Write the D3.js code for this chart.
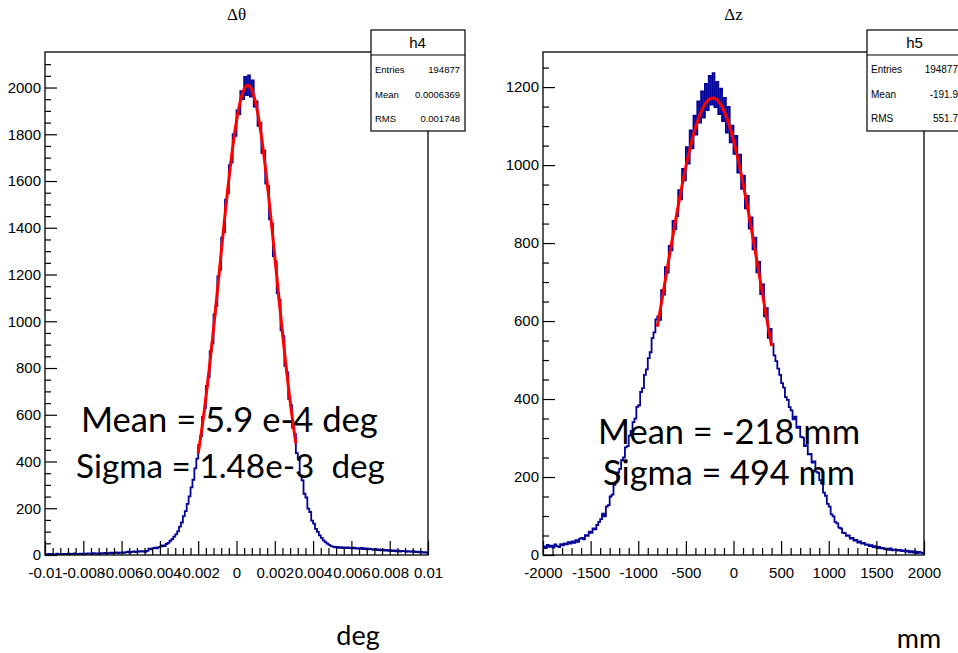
<!DOCTYPE html>
<html>
<head>
<meta charset="utf-8">
<script src="https://cdn.jsdelivr.net/npm/d3@7"></script>
<style>
  html, body { margin: 0; padding: 0; background: #fff; }
  svg { display: block; }
</style>
</head>
<body>
<svg id="chart" width="958" height="653"></svg>
<script>
// ---- Δθ histogram (h4): 200 bins from -0.01 to 0.01 deg ----
const thetaRange = [-0.01, 0.01];
const thetaCounts = [
  4,3,5,2,4,3,6,4,3,5,
  5,4,6,3,5,7,4,5,6,4,
  6,5,7,6,4,8,6,7,5,8,
  7,9,6,8,10,7,9,11,8,10,
  11,9,12,14,10,13,15,12,14,16,
  15,17,14,18,27,24,29,31,28,34,
  36,41,38,47,52,61,68,79,88,101,
  121,139,166,188,219,251,289,322,371,412,
  471,509,591,628,724,761,872,905,1029,1066,
  1192,1221,1358,1381,1520,1548,1668,1679,1801,1793,
  1902,1886,1985,1951,2046,1968,2052,1961,2031,1918,
  1941,1836,1849,1721,1730,1589,1578,1436,1419,1279,
  1256,1121,1093,961,936,809,781,668,641,545,
  518,436,412,341,319,262,246,198,184,147,
  134,112,99,84,73,63,55,49,43,38,
  36,33,35,31,34,30,32,29,33,30,
  28,31,27,29,26,30,25,28,24,27,
  25,22,26,21,24,20,23,19,22,18,
  21,17,20,16,19,15,18,17,14,16,
  15,13,16,12,14,11,13,10,12,9
];

// ---- Δz histogram (h5): 200 bins from -2000 to 2000 mm ----
const zRange = [-2000, 2000];
const zCounts = [
  22,18,26,21,24,19,27,23,20,28,
  25,30,27,33,29,35,31,38,34,42,
  44,40,51,49,60,57,68,66,77,85,
  92,106,99,124,128,150,155,180,188,212,
  221,243,250,276,279,306,318,341,350,380,
  384,418,428,462,476,505,520,556,571,604,
  612,603,679,668,738,724,793,781,857,836,
  869,936,912,990,961,1046,1004,1089,1043,1127,
  1078,1163,1109,1189,1122,1208,1141,1229,1155,1236,
  1149,1213,1131,1196,1113,1172,1083,1149,1058,1101,
  1029,1075,981,1027,939,973,889,921,837,866,
  784,814,725,752,669,694,612,633,557,580,
  541,512,497,478,462,441,429,405,398,379,
  371,348,355,326,329,303,301,279,282,258,
  259,237,240,214,211,192,184,160,152,131,
  124,104,99,85,81,70,68,57,56,49,
  50,42,44,37,39,32,35,29,31,26,
  27,23,25,20,23,18,21,17,18,15,
  16,13,17,12,14,13,11,13,10,12,
  9,11,7,10,6,9,5,8,6,5
];

// Gaussian fits: [amplitude, mean, sigma], fitted over a limited range
const thetaFit = [2010, 5.9e-4, 1.48e-3];
const thetaFitRange = [-0.002, 0.0031];
const zFit = [1172, -218, 494];
const zFitRange = [-800, 400];

// Axis ticks and labels
const thetaTicks = [-0.01, -0.008, -0.006, -0.004, -0.002, 0, 0.002, 0.004, 0.006, 0.008, 0.01];
const thetaTickLabels = ["-0.01", "-0.008", "-0.006", "-0.004", "-0.002", "0", "0.002", "0.004", "0.006", "0.008", "0.01"];
const zTicks = [-2000, -1500, -1000, -500, 0, 500, 1000, 1500, 2000];
const thetaYTicks = [0, 200, 400, 600, 800, 1000, 1200, 1400, 1600, 1800, 2000];
const zYTicks = [0, 200, 400, 600, 800, 1000, 1200];

// Stats boxes
const thetaStats = { name: "h4", rows: [["Entries", "194877"], ["Mean", "0.0006369"], ["RMS", "0.001748"]] };
const zStats = { name: "h5", rows: [["Entries", "194877"], ["Mean", "-191.9"], ["RMS", "551.7"]] };

// Titles, fit annotations and units
const thetaTitle = "\u0394\u03b8";
const zTitle = "\u0394z";
const thetaNotes = ["Mean = 5.9 e-4 deg", "Sigma = 1.48e-3  deg"];
const zNotes = ["Mean = -218 mm", "Sigma = 494 mm"];
const thetaUnit = "deg";
const zUnit = "mm";

const svg = d3.select("#chart");
const AXIS_FONT = "'Liberation Sans', Arial, Helvetica, sans-serif";
const NOTE_FONT = "Lato, 'Open Sans', sans-serif";

function drawPanel(cfg) {
  const g = svg.append("g");
  const { x0, x1, y0, y1 } = cfg.frame;

  const x = d3.scaleLinear().domain(cfg.range).range([x0, x1]);
  const y = d3.scaleLinear().domain([0, cfg.yMax]).range([y1, y0]);

  // Histogram as a step outline
  const n = cfg.counts.length;
  const w = (cfg.range[1] - cfg.range[0]) / n;
  const pts = cfg.counts.map((c, i) => [cfg.range[0] + i * w, c]);
  pts.push([cfg.range[1], cfg.counts[n - 1]]);
  const clipId = "clip-" + cfg.name;
  svg.append("clipPath").attr("id", clipId)
    .append("rect").attr("x", x0).attr("y", y0).attr("width", x1 - x0).attr("height", y1 - y0);

  g.append("path")
    .datum(pts)
    .attr("clip-path", `url(#${clipId})`)
    .attr("fill", "none")
    .attr("stroke", "#000099")
    .attr("stroke-width", 1.8)
    .attr("d", d3.line().x(d => x(d[0])).y(d => y(d[1])).curve(d3.curveStepAfter));

  // Gaussian fit curve
  const [A, mu, sig] = cfg.fit;
  const fitPts = d3.range(0, 121).map(k => {
    const xv = cfg.fitRange[0] + (cfg.fitRange[1] - cfg.fitRange[0]) * k / 120;
    return [xv, A * Math.exp(-0.5 * ((xv - mu) / sig) ** 2)];
  });
  g.append("path")
    .datum(fitPts)
    .attr("fill", "none")
    .attr("stroke", "#ff0000")
    .attr("stroke-width", 3)
    .attr("d", d3.line().x(d => x(d[0])).y(d => y(d[1])));

  // Frame
  g.append("rect")
    .attr("x", x0).attr("y", y0).attr("width", x1 - x0).attr("height", y1 - y0)
    .attr("fill", "none").attr("stroke", "#000").attr("stroke-width", 1.3);

  // X axis: major ticks with labels, minor ticks
  const xMajor = d3.axisBottom(x).tickValues(cfg.xTicks)
    .tickFormat((d, i) => cfg.xLabels[i]).tickSize(-14).tickPadding(12);
  const xa = g.append("g").attr("transform", `translate(0,${y1})`).call(xMajor);
  const xMinor = d3.axisBottom(x).tickValues(cfg.xMinor).tickFormat("").tickSize(-7);
  const xb = g.append("g").attr("transform", `translate(0,${y1})`).call(xMinor);

  // Y axis
  const yMajor = d3.axisLeft(y).tickValues(cfg.yTicks).tickFormat(d3.format("d"))
    .tickSize(-12).tickPadding(4);
  const ya = g.append("g").attr("transform", `translate(${x0},0)`).call(yMajor);
  const yMinor = d3.axisLeft(y).tickValues(cfg.yMinor).tickFormat("").tickSize(-6);
  const yb = g.append("g").attr("transform", `translate(${x0},0)`).call(yMinor);

  [xa, xb, ya, yb].forEach(a => {
    a.select(".domain").remove();
    a.selectAll("line").attr("stroke", "#000").attr("stroke-width", 1.2);
    a.selectAll("text").attr("fill", "#000")
      .style("font-family", AXIS_FONT).style("font-size", "15px");
  });

  // Title
  svg.append("text")
    .attr("x", (x0 + x1) / 2).attr("y", 20)
    .attr("text-anchor", "middle")
    .style("font-family", "'Liberation Serif', 'Times New Roman', serif")
    .style("font-size", "17px")
    .text(cfg.title);

  // Stats box
  const s = cfg.stats;
  const sb = svg.append("g");
  sb.append("rect").attr("x", s.x0).attr("y", s.y0).attr("width", s.x1 - s.x0).attr("height", s.y1 - s.y0)
    .attr("fill", "#fff").attr("stroke", "#000").attr("stroke-width", 1.2);
  sb.append("line").attr("x1", s.x0).attr("x2", s.x1).attr("y1", s.sep).attr("y2", s.sep)
    .attr("stroke", "#000").attr("stroke-width", 1.2);
  sb.append("text")
    .attr("x", (s.x0 + s.xr + 4) / 2).attr("y", (s.y0 + s.sep) / 2 + 5.5)
    .attr("text-anchor", "middle")
    .style("font-family", AXIS_FONT).style("font-size", "15px")
    .text(cfg.statsData.name);
  cfg.statsData.rows.forEach((r, i) => {
    const ry = s.rowY[i];
    sb.append("text").attr("x", s.x0 + 4).attr("y", ry + 3.5)
      .style("font-family", AXIS_FONT).style("font-size", s.font + "px").text(r[0]);
    sb.append("text").attr("x", s.xr).attr("y", ry + 3.5).attr("text-anchor", "end")
      .style("font-family", AXIS_FONT).style("font-size", s.font + "px").text(r[1]);
  });

  // Fit annotations, sized to their span
  cfg.notes.forEach((t, i) => {
    const nt = svg.append("text")
      .attr("x", cfg.notePos[i][0]).attr("y", cfg.notePos[i][1])
      .style("font-family", NOTE_FONT).style("font-size", "30px")
      .style("white-space", "pre")
      .attr("fill", "#000")
      .text(t);
    const len = nt.node().getComputedTextLength();
    nt.style("font-size", (30 * cfg.notePos[i][2] / len).toFixed(2) + "px");
  });

  // Unit label below the panel
  svg.append("text")
    .attr("x", cfg.unitPos[0]).attr("y", cfg.unitPos[1])
    .attr("text-anchor", "middle")
    .style("font-family", NOTE_FONT).style("font-size", "27px")
    .text(cfg.unit);
}

drawPanel({
  name: "theta",
  frame: { x0: 45, x1: 428, y0: 52, y1: 555 },
  range: thetaRange, counts: thetaCounts, yMax: 2152,
  fit: thetaFit, fitRange: thetaFitRange,
  xTicks: thetaTicks, xLabels: thetaTickLabels,
  xMinor: d3.range(0, 51).map(k => -0.01 + k * 0.0004).filter((v, k) => k % 5 !== 0),
  yTicks: thetaYTicks,
  yMinor: d3.range(0, 43).map(k => k * 50).filter(v => v % 200 !== 0),
  title: thetaTitle,
  stats: { x0: 371, x1: 465, y0: 30, y1: 131, sep: 55, xr: 460, rowY: [69, 94, 118], font: 9.5 },
  statsData: thetaStats,
  notes: thetaNotes,
  notePos: [[81, 432, 297], [76, 478, 309]],
  unit: thetaUnit, unitPos: [358, 645]
});

drawPanel({
  name: "z",
  frame: { x0: 543, x1: 924, y0: 52, y1: 555 },
  range: zRange, counts: zCounts, yMax: 1290,
  fit: zFit, fitRange: zFitRange,
  xTicks: zTicks, xLabels: zTicks.map(String),
  xMinor: d3.range(0, 41).map(k => -2000 + k * 100).filter(v => v % 500 !== 0),
  yTicks: zYTicks,
  yMinor: d3.range(0, 26).map(k => k * 50).filter(v => v % 200 !== 0),
  title: zTitle,
  stats: { x0: 867, x1: 975, y0: 30, y1: 131, sep: 55, xr: 958, rowY: [69, 94, 118], font: 10 },
  statsData: zStats,
  notes: zNotes,
  notePos: [[598, 444, 262], [603, 485, 252]],
  unit: zUnit, unitPos: [919, 648]
});
</script>
</body>
</html>
